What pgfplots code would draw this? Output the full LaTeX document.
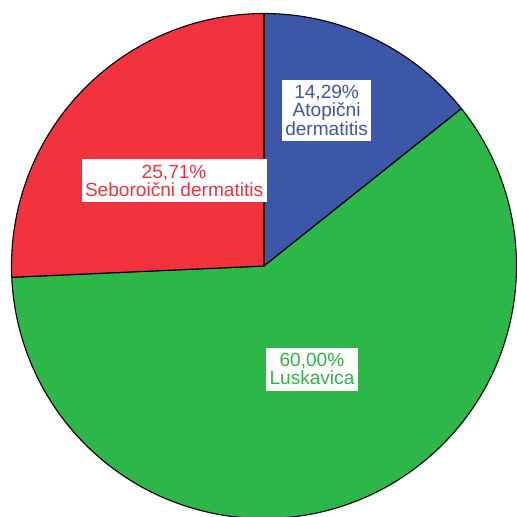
\documentclass[border=0pt]{standalone}
\usepackage{pgfplots}
\usepackage{pgfplotstable}
\pgfplotsset{compat=1.18}
\usepackage{fontspec}
\setmainfont{Liberation Sans}
\definecolor{pieblue}{RGB}{61,87,168}
\definecolor{piegreen}{RGB}{46,183,73}
\definecolor{piered}{RGB}{242,51,61}
\pgfplotstableread{
label value
Atopicni 14.29
Luskavica 60.00
Seboroicni 25.71
}\piedata
\begin{document}%
\begin{tikzpicture}
\pgfplotstablegetelem{0}{value}\of\piedata\pgfmathsetmacro\va{\pgfplotsretval}
\pgfplotstablegetelem{1}{value}\of\piedata\pgfmathsetmacro\vb{\pgfplotsretval}
\pgfplotstablegetelem{2}{value}\of\piedata\pgfmathsetmacro\vc{\pgfplotsretval}
\pgfmathsetmacro\aA{90}
\pgfmathsetmacro\aB{\aA-3.6*\va}
\pgfmathsetmacro\aC{\aB-3.6*\vb}
\pgfmathsetmacro\aD{\aC-3.6*\vc}
\useasboundingbox (0,0) rectangle (8.19cm,8.19cm);
\clip (0,0) rectangle (8.19cm,8.19cm);
\begin{axis}[
  at={(0,0)}, anchor=south west,
  x=4cm, y=4cm,
  xmin=-1.0455, xmax=1.002,
  ymin=-0.994, ymax=1.0535,
  hide axis,
  xtick=\empty, ytick=\empty,
  clip=false,
]
\addplot[draw=none, forget plot] coordinates {(0,0)};
\filldraw[fill=pieblue, draw=black, line width=0.5pt]
  (axis cs:0,0) -- ++(\aA:4cm) arc[start angle=\aA, end angle=\aB, radius=4cm] -- cycle;
\filldraw[fill=piegreen, draw=black, line width=0.5pt]
  (axis cs:0,0) -- ++(\aB:4cm) arc[start angle=\aB, end angle=\aC, radius=4cm] -- cycle;
\filldraw[fill=piered, draw=black, line width=0.5pt]
  (axis cs:0,0) -- ++(\aC:4cm) arc[start angle=\aC, end angle=\aD, radius=4cm] -- cycle;
\node[fill=white, text=pieblue, align=center, inner xsep=1.5pt, inner ysep=2.5pt,
  font=\fontsize{8.6}{8.3}\selectfont] at (axis cs:0.248,0.617)
  {14,29\%\\Atopični\\dermatitis};
\node[fill=white, text=piered, align=center, inner xsep=1.5pt, inner ysep=2.5pt,
  font=\fontsize{8.6}{8.3}\selectfont] at (axis cs:-0.356,0.337)
  {25,71\%\\Seboroični dermatitis};
\node[fill=white, text=piegreen, align=center, inner xsep=1.5pt, inner ysep=2.5pt,
  font=\fontsize{8.6}{8.3}\selectfont] at (axis cs:0.190,-0.408)
  {60,00\%\\Luskavica};
\end{axis}
\end{tikzpicture}%
\end{document}
